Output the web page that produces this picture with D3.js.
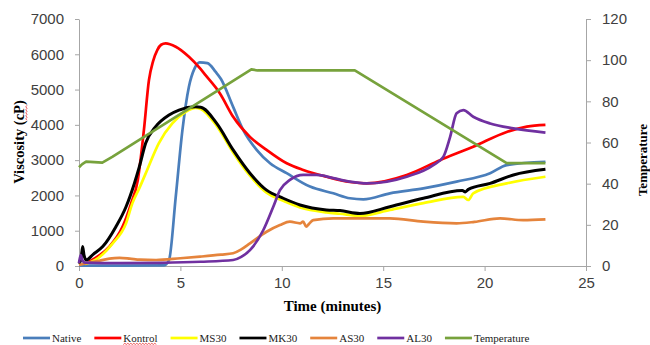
<!DOCTYPE html>
<html>
<head>
<meta charset="utf-8">
<script src="https://cdn.jsdelivr.net/npm/d3@7"></script>
<style>
  html, body { margin: 0; padding: 0; background: #fff; }
</style>
</head>
<body>
<script>
// [time (min), viscosity (cP)]
const native = [[0,10],[2,10],[4.2,20],[4.44,170],[4.77,1960],[5.1,3850],[5.42,5080],[5.7,5600],[5.95,5770],[6.33,5750],[6.74,5500],[7.0,5300],[7.6,4510],[8.1,3850],[8.76,3290],[9.42,2910],[10.24,2630],[11.39,2250],[12.54,2060],[13.36,1920],[14.02,1890],[15.33,2060],[16.98,2200],[18.62,2390],[20.27,2630],[21.09,2860],[23,2955]];
const kontrol = [[0.3,60],[0.5,120],[1.0,300],[1.5,550],[2.15,1115],[2.57,1775],[2.9,2440],[3.2,3850],[3.45,5270],[3.65,5800],[3.86,6120],[4.05,6270],[4.27,6310],[4.77,6215],[5.42,5930],[5.97,5600],[6.25,5400],[6.95,4890],[7.6,4230],[8.43,3660],[9.25,3290],[10.24,2910],[11.06,2720],[12.2,2530],[13.36,2380],[14.19,2340],[16.16,2580],[17.8,3000],[19.44,3380],[21.09,3800],[22.08,3950],[23,4000]];
const ms30 = [[0.3,60],[0.8,170],[1.66,640],[2.32,1210],[2.63,1775],[2.97,2200],[3.29,2625],[3.94,3485],[4.6,4040],[5.26,4370],[5.75,4480],[6.0,4450],[6.79,3970],[7.6,3220],[8.43,2560],[9.25,2080],[10.07,1850],[10.9,1660],[12.2,1520],[12.87,1480],[13.85,1420],[15.33,1590],[16.98,1780],[18.95,1960],[19.2,1870],[19.44,2060],[21.09,2340],[23,2530]];
const mk30 = [[0,60],[0.1,200],[0.18,550],[0.25,300],[0.35,170],[0.7,330],[1.17,550],[1.82,1115],[2.32,1680],[2.73,2340],[2.97,2800],[3.29,3485],[3.78,3950],[4.44,4280],[4.93,4420],[5.75,4510],[6.0,4500],[6.79,4040],[7.6,3290],[8.43,2630],[9.25,2150],[10.07,1920],[10.9,1730],[12.2,1590],[12.87,1570],[13.85,1490],[15.33,1680],[16.98,1920],[18.9,2140],[19.05,2100],[19.2,2170],[20.27,2340],[21.42,2580],[23,2740]];
const as30 = [[0,30],[0.5,100],[1.0,150],[1.5,210],[2.0,230],[2.5,210],[3.0,180],[3.8,170],[5.0,220],[5.97,265],[7.0,320],[7.6,360],[8.0,470],[8.43,640],[9.25,970],[9.91,1160],[10.4,1255],[10.9,1210],[11.05,1260],[11.2,1115],[11.35,1200],[11.55,1300],[12.54,1350],[13.36,1350],[15.33,1350],[16.98,1255],[18.62,1210],[19.5,1250],[20.76,1350],[21.9,1300],[23,1320]];
const al30 = [[0,80],[0.08,310],[0.18,150],[0.3,95],[2,80],[4,90],[6.0,120],[7.6,170],[8.0,260],[8.43,450],[9.09,1020],[9.58,1680],[9.91,2150],[10.4,2440],[11.06,2580],[11.72,2580],[12.54,2490],[13.36,2390],[14.19,2340],[16.16,2530],[17.47,2860],[17.97,3100],[18.3,3660],[18.62,4330],[18.95,4420],[19.44,4230],[20.27,4040],[21.42,3900],[23.0,3780]];
// [time (min), temperature]
const temperature = [[0,48],[0.16,49.5],[0.35,50.7],[1.15,50.2],[1.64,53],[8.5,95.5],[8.8,95],[13.6,95],[21.09,50],[23,50]];

const seriesNames = ["Native", "Kontrol", "MS30", "MK30", "AS30", "AL30", "Temperature"];
const seriesData = [native, kontrol, ms30, mk30, as30, al30, temperature];
const seriesColors = ["#4a7ebb", "#ff0000", "#ffff00", "#000000", "#e5843c", "#7030a0", "#77a23c"];

const xTicks = [0, 5, 10, 15, 20, 25];
const yTicks = [0, 1000, 2000, 3000, 4000, 5000, 6000, 7000];
const y2Ticks = [0, 20, 40, 60, 80, 100, 120];

// red spell-check wave between x0 and x1 at baseline y (in the text's own coordinates)
function squiggle(parent, x0, x1, y) {
  let d = `M${x0},${y}`;
  let up = true;
  for (let px = x0 + 1.5; px <= x1; px += 1.5) {
    d += `L${px},${y + (up ? -1.2 : 0)}`;
    up = !up;
  }
  parent.append("path")
    .attr("d", d)
    .attr("fill", "none")
    .attr("stroke", "#e83030")
    .attr("stroke-width", 0.8);
}

function main() {
  const width = 650;
  const height = 345;
  const margin = { top: 19, right: 64, bottom: 79, left: 79 };
  const axisColor = "#a6a6a6";
  const tickFont = "'Liberation Sans', Arial, sans-serif";
  const serif = "'Liberation Serif', 'Times New Roman', serif";

  const x = d3.scaleLinear().domain([0, 25]).range([margin.left, width - margin.right]);
  const y = d3.scaleLinear().domain([0, 7000]).range([height - margin.bottom, margin.top]);
  const y2 = d3.scaleLinear().domain([0, 120]).range([height - margin.bottom, margin.top]);

  const svg = d3.create("svg")
    .attr("width", width)
    .attr("height", height);
  document.body.appendChild(svg.node());

  function styleAxis(g) {
    g.selectAll(".domain").attr("stroke", axisColor);
    g.selectAll(".tick line").attr("stroke", axisColor);
    g.selectAll(".tick text")
      .attr("fill", "#404040")
      .style("font-family", tickFont)
      .style("font-size", "15px");
  }

  // x axis
  svg.append("g")
    .attr("transform", `translate(0,${height - margin.bottom})`)
    .call(d3.axisBottom(x).tickValues(xTicks).tickSize(5).tickSizeOuter(0).tickPadding(6))
    .call(styleAxis);

  // left axis
  svg.append("g")
    .attr("transform", `translate(${margin.left},0)`)
    .call(d3.axisLeft(y).tickValues(yTicks).tickFormat(d3.format("d")).tickSize(4).tickSizeOuter(0).tickPadding(11))
    .call(styleAxis);

  // right axis
  svg.append("g")
    .attr("transform", `translate(${width - margin.right},0)`)
    .call(d3.axisRight(y2).tickValues(y2Ticks).tickSize(5).tickSizeOuter(0).tickPadding(11))
    .call(styleAxis);

  // axis titles
  svg.append("text")
    .attr("x", (margin.left + width - margin.right) / 2)
    .attr("y", 311)
    .attr("text-anchor", "middle")
    .style("font-family", serif)
    .style("font-size", "15px")
    .style("font-weight", "bold")
    .text("Time (minutes)");

  const yTitleG = svg.append("g").attr("transform", "translate(24,142) rotate(-90)");
  const yTitle = yTitleG.append("text")
    .attr("text-anchor", "middle")
    .style("font-family", serif)
    .style("font-size", "14.5px")
    .style("font-weight", "bold")
    .text("Viscosity (cP)");
  const cStart = yTitle.node().getStartPositionOfChar(11).x;
  const pEnd = yTitle.node().getEndPositionOfChar(12).x;
  squiggle(yTitleG, cStart, pEnd, 3);

  svg.append("text")
    .attr("transform", "translate(647,160) rotate(-90)")
    .attr("text-anchor", "middle")
    .style("font-family", serif)
    .style("font-size", "13px")
    .style("font-weight", "bold")
    .text("Temperature");

  // lines
  const line = d3.line().x(d => x(d[0])).y(d => y(d[1])).curve(d3.curveMonotoneX);
  const line2 = d3.line().x(d => x(d[0])).y(d => y2(d[1]));

  seriesData.forEach((data, i) => {
    svg.append("path")
      .attr("d", i === 6 ? line2(data) : line(data))
      .attr("fill", "none")
      .attr("stroke", seriesColors[i])
      .attr("stroke-width", i === 3 ? 3 : 2.7)
      .attr("stroke-linejoin", "round");
  });

  // legend
  const legend = svg.append("g");
  let lx = 23;
  seriesNames.forEach((name, i) => {
    legend.append("line")
      .attr("x1", lx).attr("x2", lx + 27)
      .attr("y1", 338).attr("y2", 338)
      .attr("stroke", seriesColors[i])
      .attr("stroke-width", 2.7);
    const t = legend.append("text")
      .attr("x", lx + 29)
      .attr("y", 342)
      .style("font-family", serif)
      .style("font-size", "11px")
      .attr("fill", "#222")
      .text(name);
    const w = t.node().getComputedTextLength();
    if (name === "Kontrol") squiggle(legend, lx + 29, lx + 29 + w, 344.5);
    lx += 29 + w + 13;
  });
}

main();
</script>
</body>
</html>
